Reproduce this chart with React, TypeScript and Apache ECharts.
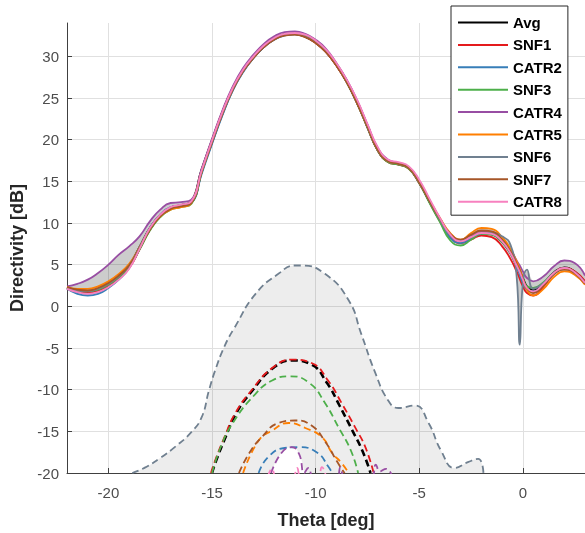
import React, { useEffect, useRef } from 'react';
import * as echarts from 'echarts';

// Theta grid for the solid (directivity) curves
const theta = [-22,-21.5,-21,-20.5,-20,-19.5,-19,-18.5,-18,-17.5,-17,-16.5,-16,-15.5,-15,-14.5,-14,-13.5,-13,-12.5,-12,-11.5,-11,-10.5,-10,-9.5,-9,-8.5,-8,-7.5,-7,-6.5,-6,-5.5,-5,-4.5,-4,-3.5,-3,-2.5,-2,-1.5,-1,-0.6,-0.3,-0.15,0,0.2,0.5,1,1.5,2,2.5,3];

const avg   = [2.2,1.9,1.8,2.0,2.6,3.5,4.8,7.0,9.3,10.9,11.8,12.1, 12.5,16.3,19.8,23.2,26.1,28.3,29.9,31.2,32.1,32.6,32.7,32.4,31.7,30.6,29.0,27.0,24.5,21.6,18.8,17.4,17.1,16.6,14.9,12.6,10.4,8.5, 7.8,8.3,8.8,8.7,7.8,6.5,5.0,4.2,3.3,2.3,1.9,2.7,4.0,4.6,4.1,2.8];
const snf1  = [2.2,1.8,1.7,1.9,2.5,3.4,4.6,6.8,9.2,10.8,11.7,12.0, 12.5,16.3,19.9,23.3,26.2,28.3,29.9,31.2,32.1,32.6,32.7,32.4,31.6,30.5,28.9,26.9,24.4,21.5,18.7,17.3,17.0,16.5,14.8,12.5,10.2,8.3, 7.6,8.0,8.5,8.3,7.2,5.7,4.2,3.3,2.4,1.6,1.3,2.4,3.9,4.6,4.2,3.0];
const catr2 = [2.1,1.5,1.3,1.5,2.2,3.2,4.6,7.0,9.4,11.0,11.9,12.1, 12.4,15.9,19.5,22.9,25.9,28.1,29.8,31.1,32.0,32.5,32.7,32.5,31.8,30.7,29.1,27.1,24.6,21.7,18.9,17.5,17.1,16.6,14.9,12.6,10.4,8.2, 7.6,8.1,8.7,8.8,8.0,6.6,4.8,3.8,2.8,2.0,1.8,2.6,3.9,4.5,4.1,2.8];
const snf3  = [2.2,1.9,1.8,2.0,2.6,3.5,4.7,6.8,9.1,10.7,11.6,11.9, 12.3,16.1,19.8,23.2,26.1,28.3,29.9,31.2,32.1,32.6,32.7,32.4,31.7,30.6,29.0,26.9,24.4,21.5,18.7,17.3,17.0,16.5,14.8,12.4,10.1,7.9, 7.3,8.0,8.7,8.6,7.7,6.4,5.0,4.2,3.3,2.4,2.2,2.9,4.0,4.5,4.0,2.7];
const catr4 = [2.4,2.7,3.2,4.0,5.0,6.2,7.2,8.4,10.2,11.6,12.4,12.5, 12.8,16.5,20.1,23.5,26.4,28.6,30.2,31.5,32.4,32.9,33.0,32.7,32.0,30.9,29.2,27.2,24.7,21.8,19.0,17.6,17.2,16.7,15.0,12.7,10.5,8.6, 7.8,8.4,8.9,8.9,8.0,6.8,5.5,4.9,4.2,3.4,3.0,3.6,4.8,5.5,5.2,3.7];
const catr5 = [2.3,2.1,2.1,2.4,3.0,3.9,5.1,7.1,9.3,10.8,11.6,11.9, 12.4,16.2,19.8,23.2,26.1,28.3,29.9,31.2,32.1,32.6,32.7,32.4,31.7,30.6,29.0,27.0,24.5,21.6,18.8,17.4,17.1,16.6,14.9,12.7,10.6,8.8, 8.0,8.8,9.4,9.3,8.3,6.9,5.4,4.5,3.4,2.0,1.3,2.1,3.5,4.2,3.8,2.6];
const snf6  = [2.2,1.9,1.8,2.1,2.7,3.6,4.9,7.1,9.3,10.9,11.8,12.1, 12.5,16.2,19.7,23.1,26.0,28.2,29.9,31.2,32.1,32.6,32.7,32.4,31.7,30.6,29.0,27.0,24.5,21.6,18.8,17.4,17.1,16.6,14.9,12.6,10.4,8.5, 7.9,8.3,8.8,8.8,8.4,7.4,3.6,-4.6,2.8,4.4,2.1,2.8,4.0,4.6,4.0,2.8];
const snf7  = [2.3,2.0,1.9,2.2,2.8,3.7,4.9,7.0,9.2,10.8,11.7,12.0, 12.4,16.1,19.7,23.1,26.0,28.2,29.8,31.1,32.0,32.5,32.6,32.3,31.6,30.5,28.9,26.9,24.4,21.6,18.8,17.4,17.1,16.6,14.9,12.6,10.5,8.7, 8.0,8.6,9.1,9.0,8.0,6.6,5.1,4.3,3.3,2.2,1.6,2.5,3.9,4.4,4.0,2.7];
const catr8 = [2.1,1.7,1.5,1.7,2.3,3.2,4.5,6.9,9.4,11.0,11.9,12.2, 12.6,16.3,19.9,23.3,26.2,28.4,30.0,31.3,32.2,32.7,32.8,32.6,31.9,30.8,29.2,27.2,24.8,21.9,19.1,17.6,17.3,16.8,15.2,12.9,10.6,8.6, 7.8,8.3,8.8,8.7,7.8,6.4,4.9,4.1,3.2,2.2,1.8,2.7,4.0,4.6,4.1,2.8];

// Dashed (error level) curves: [theta, dB]
const avgDash   = [[-15.0,-20],[-14.8,-18.5],[-14.35,-15.7],[-13.85,-12.9],[-13.05,-10.1],[-12.1,-7.5],[-11.15,-6.5],[-10.2,-7.0],[-9.45,-9.2],[-8.85,-11.9],[-8.25,-14.8],[-7.75,-17.3],[-7.35,-20]];
const snf1Dash  = [[-15.05,-20],[-14.85,-18.5],[-14.4,-15.7],[-13.9,-12.9],[-13.1,-10.1],[-12.1,-7.4],[-11.15,-6.4],[-10.2,-6.8],[-9.4,-8.9],[-8.75,-11.6],[-8.1,-14.5],[-7.6,-16.9],[-7.2,-20]];
const catr2Dash = [[-12.75,-20],[-12.3,-18.1],[-11.5,-17.0],[-10.8,-16.9],[-9.9,-17.6],[-9.4,-19.2],[-9.2,-20]];
const snf3Dash  = [[-15.0,-20],[-14.6,-17.0],[-14.0,-14.0],[-12.9,-10.5],[-12.1,-8.9],[-11.25,-8.4],[-10.3,-9.2],[-9.55,-11.6],[-8.9,-14.5],[-8.3,-17.3],[-7.95,-20]];
const catr4Dash = [[-12.15,-20],[-11.65,-17.6],[-11.15,-16.9],[-10.8,-17.7],[-10.55,-20],[-10.35,-19.4],[-10.1,-20.4],[-9.0,-20.4],[-8.8,-19.3],[-8.6,-20.4],[-7.3,-20.4],[-7.1,-19.0],[-6.9,-19.8],[-6.6,-19.5],[-6.3,-20.4]];
const catr5Dash = [[-13.5,-20],[-12.75,-16.1],[-12.1,-14.9],[-11.3,-14.0],[-10.5,-14.6],[-9.7,-15.7],[-9.2,-17.6],[-8.75,-18.8],[-8.4,-20]];
const snf6Dash  = [[-18.85,-20],[-18.2,-19.3],[-17.5,-18.2],[-16.8,-16.9],[-16.0,-15.1],[-15.5,-13.3],[-15.15,-10.1],[-14.85,-7.7],[-14.4,-4.8],[-13.9,-2.5],[-12.9,1.5],[-11.8,3.9],[-11.0,4.9],[-10.7,4.9],[-9.55,3.9],[-8.4,0.7],[-7.8,-3.3],[-7.15,-7.8],[-6.5,-11.3],[-6.0,-12.2],[-5.2,-11.9],[-4.55,-14.0],[-3.95,-17.3],[-3.3,-19.4],[-2.65,-18.7],[-2.15,-18.3],[-1.9,-20]];
const snf7Dash  = [[-13.7,-20],[-13.2,-17.6],[-12.6,-15.7],[-11.8,-14.0],[-11.0,-13.7],[-10.2,-14.3],[-9.55,-16.2],[-8.9,-18.9],[-8.6,-20]];
const catr8Dash = [[-12.3,-20.4],[-12.1,-19.5],[-11.9,-20.4],[-11.1,-20.4],[-10.9,-19.4],[-10.7,-20.4],[-9.9,-20.4],[-9.7,-19.3],[-9.5,-20.4]];

const names = ['Avg','SNF1','CATR2','SNF3','CATR4','CATR5','SNF6','SNF7','CATR8'];
const colors = ['#000000','#e41a1c','#377eb8','#4daf4a','#984ea3','#ff7f00','#708090','#a65628','#f781bf'];
const solid = [avg, snf1, catr2, snf3, catr4, catr5, snf6, snf7, catr8];
const dashed = [avgDash, snf1Dash, catr2Dash, snf3Dash, catr4Dash, catr5Dash, snf6Dash, snf7Dash, catr8Dash];

const FONT = '"Liberation Sans", Arial, Helvetica, sans-serif';

export default function App() {
  const ref = useRef<HTMLDivElement>(null);
  useEffect(() => {
    const chart = echarts.init(ref.current!, null, { renderer: 'svg' });
    const lo = theta.map((_, i) => Math.min(...solid.map((s) => s[i])));
    const hi = theta.map((_, i) => Math.max(...solid.map((s) => s[i])));

    const series: any[] = [];
    // spread band between the min and max of the solid curves
    series.push({
      type: 'custom', name: 'band', silent: true, clip: true,
      data: [[-10, 0]],
      encode: { x: 0, y: 1 },
      renderItem: (_p: any, api: any) => {
        const top = theta.map((t, i) => api.coord([t, hi[i]]));
        const bot = theta.map((t, i) => api.coord([t, lo[i]])).reverse();
        return {
          type: 'polygon',
          shape: { points: top.concat(bot), smooth: 0.2 },
          style: { fill: 'rgba(0,0,0,0.2)', stroke: 'none' },
        };
      },
    });
    series.push({
      type: 'line', name: 'fillLow', smooth: true, symbol: 'none', silent: true,
      lineStyle: { opacity: 0 }, areaStyle: { color: 'rgba(0,0,0,0.1)', origin: 'start' },
      data: snf6Dash,
    });
    series.push({
      type: 'line', name: 'hole', smooth: true, symbol: 'none', silent: true,
      lineStyle: { opacity: 0 }, areaStyle: { color: '#ffffff', opacity: 1, origin: 'start' },
      data: catr4Dash.slice(0, 5),
    });
    names.forEach((n, k) => {
      series.push({
        type: 'line', name: n, smooth: true, symbol: 'none',
        lineStyle: { color: colors[k], width: k === 0 ? 2.8 : 1.8 },
        itemStyle: { color: colors[k] },
        data: theta.map((t, i) => [t, solid[k][i]]),
      });
    });
    names.forEach((n, k) => {
      series.push({
        type: 'line', name: n + ' dashed', smooth: true, symbol: 'none', silent: true,
        lineStyle: { color: colors[k], width: k === 0 ? 2.6 : 1.8, type: [7, 4] },
        data: dashed[k],
      });
    });

    chart.setOption({
      animation: false,
      textStyle: { fontFamily: FONT },
      grid: { left: 67, right: 0, top: 23, bottom: 60, containLabel: false, outerBoundsMode: 'none' },
      legend: {
        data: names, orient: 'vertical', left: 451, top: 6,
        padding: [9, 6, 6, 6], itemWidth: 50, itemHeight: 14, itemGap: 7.4,
        borderColor: '#262626', borderWidth: 1, backgroundColor: '#ffffff',
        itemStyle: { opacity: 0, borderWidth: 0 },
        textStyle: { fontFamily: FONT, fontSize: 15, fontWeight: 'bold', color: '#000' },
        selectedMode: false,
      },
      xAxis: {
        type: 'value', min: -22, max: 3, splitNumber: 5,
        name: 'Theta [deg]', nameLocation: 'middle', nameGap: 38,
        nameTextStyle: { fontFamily: FONT, fontSize: 18, fontWeight: 'bold', color: '#262626' },
        axisLine: { show: true, onZero: false, lineStyle: { color: '#404040' } },
        axisTick: { show: true, inside: true, length: 5, lineStyle: { color: '#404040' } },
        axisLabel: { showMinLabel: false, showMaxLabel: false, fontFamily: FONT, fontSize: 15, color: '#4d4d4d', margin: 12 },
        splitLine: { show: true, showMinLine: false, showMaxLine: false, lineStyle: { color: '#e0e0e0' } },
      },
      yAxis: {
        type: 'value', min: -20, max: 34, interval: 5,
        name: 'Directivity [dB]', nameLocation: 'middle', nameGap: 39,
        nameTextStyle: { fontFamily: FONT, fontSize: 18, fontWeight: 'bold', color: '#262626' },
        axisLine: { show: true, onZero: false, lineStyle: { color: '#404040' } },
        axisTick: { show: true, inside: true, length: 5, lineStyle: { color: '#404040' } },
        axisLabel: { showMaxLabel: false, fontFamily: FONT, fontSize: 15, color: '#4d4d4d', margin: 8 },
        splitLine: { show: true, showMaxLine: false, lineStyle: { color: '#e0e0e0' } },
      },
      series,
    });
    return () => chart.dispose();
  }, []);
  return <div ref={ref} style={{ position: 'fixed', left: 0, top: 0, width: 585, height: 533 }} />;
}
